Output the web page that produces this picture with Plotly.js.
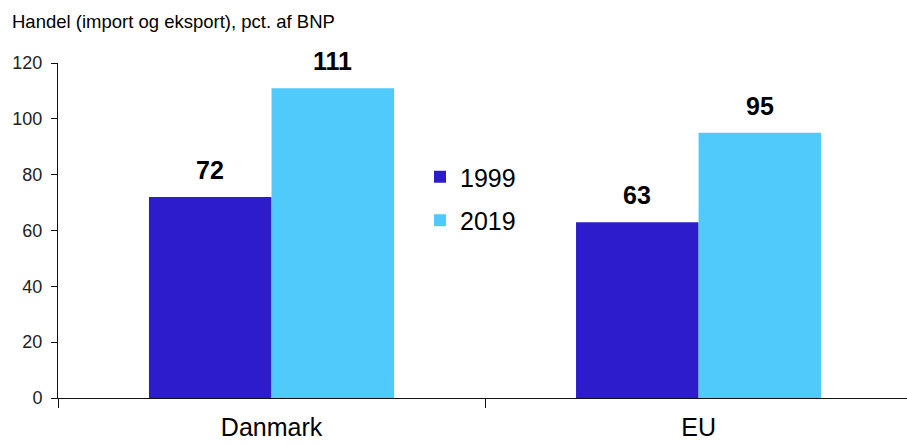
<!DOCTYPE html>
<html><head><meta charset="utf-8">
<script src="https://cdn.plot.ly/plotly-3.0.1.min.js"></script>
<style>html,body{margin:0;padding:0;background:#fff}</style>
</head><body><div id="chart" style="width:907px;height:445px"></div>
<script>
const categories = ["Danmark", "EU"];
const series1999 = [72, 63];
const series2019 = [111, 95];
const seriesNames = ["1999", "2019"];
const yTicks = [0, 20, 40, 60, 80, 100, 120];

const colors = ["#2c1ccc", "#50cafa"];
const bargap = 0.426;
const barW = (1 - bargap) / 2;
const font = "Liberation Sans, Arial, sans-serif";

const traces = [series1999, series2019].map((vals, i) => ({
  type: "bar", x: categories, y: vals, name: seriesNames[i],
  marker: {color: colors[i]}, legendgroup: "g" + i, hoverinfo: "none"
}));

const annotations = [];
[series1999, series2019].forEach((vals, i) => {
  vals.forEach((v, c) => {
    annotations.push({
      x: c + (i === 0 ? -barW / 2 : barW / 2), y: v, xref: "x", yref: "y",
      text: "<b>" + v + "</b>", showarrow: false, yanchor: "bottom", yshift: 11,
      font: {family: font, size: 25, color: "#000"}
    });
  });
});

const layout = {
  width: 907, height: 445,
  margin: {l: 58, r: 0, t: 63, b: 47},
  paper_bgcolor: "#fff", plot_bgcolor: "#fff",
  barmode: "group", bargap: bargap, bargroupgap: 0,
  title: {text: "Handel (import og eksport), pct. af BNP", x: 12 / 907, xanchor: "left",
    y: 1 - 22 / 445, yanchor: "middle", xref: "container", yref: "container",
    font: {family: font, size: 18.5, color: "#000"}},
  xaxis: {type: "category", range: [-0.5, 1.488], showgrid: false, showline: true,
    linecolor: "#111", linewidth: 1, ticks: "outside", tickson: "boundaries",
    ticklen: 9, tickcolor: "#111", ticklabelstandoff: 7,
    tickfont: {family: font, size: 25, color: "#000"}, fixedrange: true},
  yaxis: {range: [0, 120], tickvals: yTicks, showgrid: false, zeroline: false,
    showline: true, linecolor: "#111", linewidth: 1, ticks: "outside", ticklen: 6,
    ticklabelstandoff: 5,
    tickcolor: "#111", tickfont: {family: font, size: 18, color: "#222"}},
  legend: {x: (420 - 58) / 849, y: (398 - 154) / 335, xanchor: "left", yanchor: "top",
    bgcolor: "rgba(0,0,0,0)", font: {family: font, size: 25, color: "#000"},
    traceorder: "grouped", tracegroupgap: 8},
  annotations: annotations,
  showlegend: true
};

Plotly.newPlot("chart", traces, layout, {displayModeBar: false, staticPlot: true});
</script></body></html>
